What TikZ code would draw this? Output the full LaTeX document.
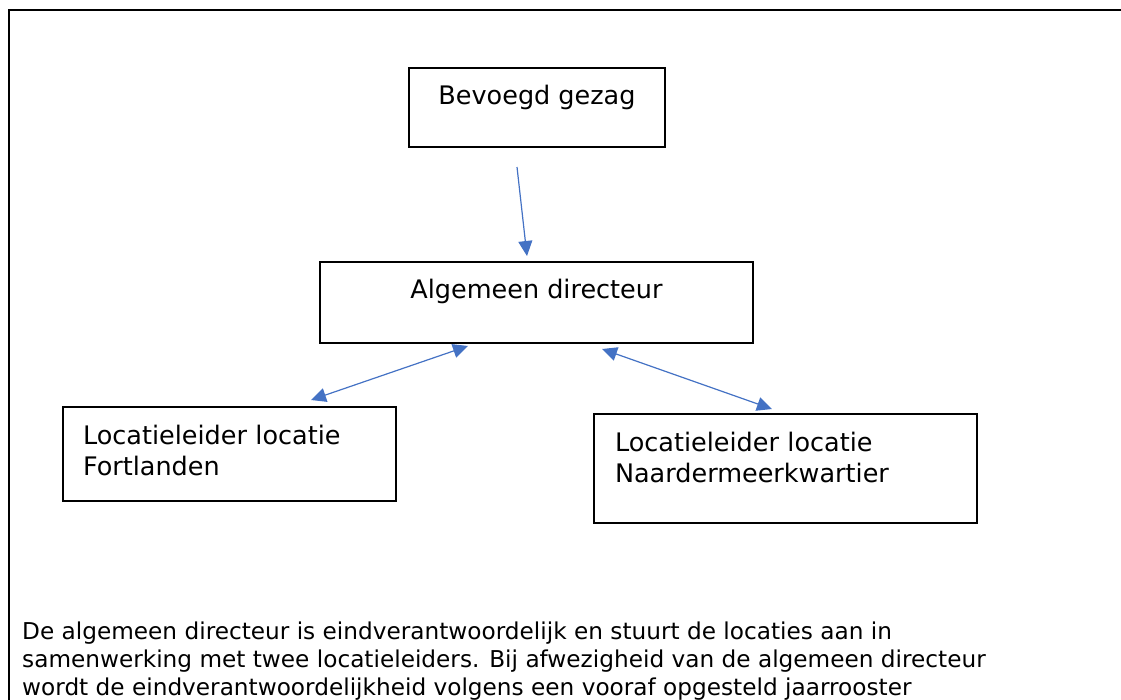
\documentclass[tikz,border=0pt]{standalone}
\usepackage{fontspec}
\setmainfont{DejaVu Sans}
\usetikzlibrary{arrows.meta}
\definecolor{arrblue}{HTML}{4472C4}
\begin{document}
\begin{tikzpicture}[x=1pt,y=-1pt,
  box/.style={draw=black, line width=2pt, inner ysep=0pt, font=\fontsize{25.5}{31}\selectfont},
  tipA/.tip={Triangle[length=15pt,width=14pt]},
  arr/.style={draw=arrblue, line width=1.2pt, -tipA},
  darr/.style={draw=arrblue, line width=1.2pt, tipA-tipA},
  bodytext/.style={inner sep=0pt, font=\fontsize{23.2}{28}\selectfont}]
\useasboundingbox (0,0) rectangle (1121,699);
\clip (0,0) rectangle (1121,699);
\draw[line width=2.5pt] (9,10) rectangle (1140,720);
\node[box, anchor=north, minimum width=256pt, inner xsep=0pt, text height=36pt, text depth=43pt] (bev) at (537,67) {Bevoegd gezag};
\node[box, anchor=north, minimum width=433pt, inner xsep=0pt, text height=36pt, text depth=45pt] (alg) at (536.5,261) {Algemeen directeur};
\node[box, anchor=north west, inner xsep=20pt, text width=293pt, align=left, text height=37pt, text depth=57pt] (fort) at (62,406) {Locatieleider locatie\\Fortlanden};
\node[box, anchor=north west, inner xsep=21pt, text width=341pt, align=left, text height=37pt, text depth=72pt] (naar) at (593,413) {Locatieleider locatie\\Naardermeerkwartier};
\draw[arr] ([shift={(-20,19)}]bev.south) -- ([shift={(-9.5,-5)}]alg.north);
\draw[darr] ([shift={(81.5,-6)}]fort.north) -- ([shift={(-68.5,2)}]alg.south);
\draw[darr] ([shift={(65.5,5)}]alg.south) -- ([shift={(-13.5,-4)}]naar.north);
\node[bodytext, anchor=base west] (txt) at (22,639) {\begin{tabular}[t]{@{}l@{}}De algemeen directeur is eindverantwoordelijk en stuurt de locaties aan in\\samenwerking met twee locatieleiders. Bij afwezigheid van de algemeen directeur\\wordt de eindverantwoordelijkheid volgens een vooraf opgesteld jaarrooster\end{tabular}};
\end{tikzpicture}
\end{document}
